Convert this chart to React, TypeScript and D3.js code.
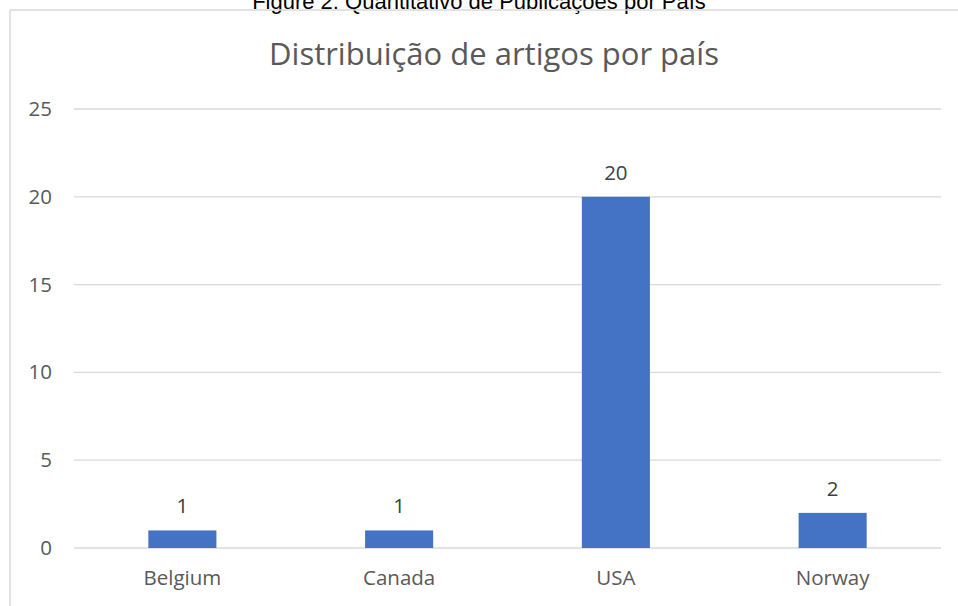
import React, { useEffect, useRef } from 'react';
import * as d3 from 'd3';

const countries = ['Belgium', 'Canada', 'USA', 'Norway'];
const articles = [1, 1, 20, 2];
const yTicks = [0, 5, 10, 15, 20, 25];

const caption = 'Figure 2: Quantitativo de Publicações por País';
const chartTitle = 'Distribuição de artigos por país';

const W = 958;
const H = 606;

const App: React.FC = () => {
  const svgRef = useRef<SVGSVGElement>(null);

  useEffect(() => {
    if (!svgRef.current) return;
    const svg = d3.select(svgRef.current);
    svg.selectAll('*').remove();

    const font = '"Open Sans", sans-serif';
    const textGray = '#595959';

    // figure caption, cut off at the top
    svg.append('text')
      .attr('x', 479)
      .attr('y', 9)
      .attr('text-anchor', 'middle')
      .attr('font-family', 'Liberation Sans, Arial, sans-serif')
      .attr('font-size', 22)
      .attr('fill', '#000')
      .text(caption);

    // chart area border
    svg.append('rect')
      .attr('x', 10)
      .attr('y', 10)
      .attr('width', W + 20)
      .attr('height', H + 20)
      .attr('fill', 'none')
      .attr('stroke', '#d9d9d9')
      .attr('stroke-width', 1.5);

    svg.append('text')
      .attr('x', 494)
      .attr('y', 65)
      .attr('text-anchor', 'middle')
      .attr('font-family', font)
      .attr('font-size', 31)
      .attr('fill', textGray)
      .text(chartTitle);

    const x = d3.scaleBand<string>()
      .domain(countries)
      .range([74, 941])
      .paddingInner(0.686)
      .paddingOuter(0.343);

    const y = d3.scaleLinear().domain([0, 25]).range([548, 109]);

    // gridlines
    svg.append('g')
      .selectAll('line')
      .data(yTicks)
      .join('line')
      .attr('x1', 74)
      .attr('x2', 941)
      .attr('y1', d => y(d))
      .attr('y2', d => y(d))
      .attr('stroke', '#d9d9d9')
      .attr('stroke-width', 1.3);

    // y tick labels
    svg.append('g')
      .selectAll('text')
      .data(yTicks)
      .join('text')
      .attr('x', 52)
      .attr('y', d => y(d) + 7)
      .attr('text-anchor', 'end')
      .attr('font-family', font)
      .attr('font-size', 20.5)
      .attr('fill', textGray)
      .text(d => d);

    // bars
    svg.append('g')
      .selectAll('rect')
      .data(articles)
      .join('rect')
      .attr('x', (d, i) => x(countries[i])!)
      .attr('y', d => y(d))
      .attr('width', x.bandwidth())
      .attr('height', d => y(0) - y(d))
      .attr('fill', '#4472c4');

    // data labels
    svg.append('g')
      .selectAll('text')
      .data(articles)
      .join('text')
      .attr('x', (d, i) => x(countries[i])! + x.bandwidth() / 2)
      .attr('y', d => y(d) - 17)
      .attr('text-anchor', 'middle')
      .attr('font-family', font)
      .attr('font-size', 20.5)
      .attr('fill', '#404040')
      .text(d => d);

    // category labels
    svg.append('g')
      .selectAll('text')
      .data(countries)
      .join('text')
      .attr('x', d => x(d)! + x.bandwidth() / 2)
      .attr('y', 585)
      .attr('text-anchor', 'middle')
      .attr('font-family', font)
      .attr('font-size', 20.5)
      .attr('fill', textGray)
      .text(d => d);
  }, []);

  return (
    <svg
      ref={svgRef}
      width={W}
      height={H}
      style={{ position: 'absolute', left: 0, top: 0, background: '#fff' }}
    />
  );
};

export default App;
